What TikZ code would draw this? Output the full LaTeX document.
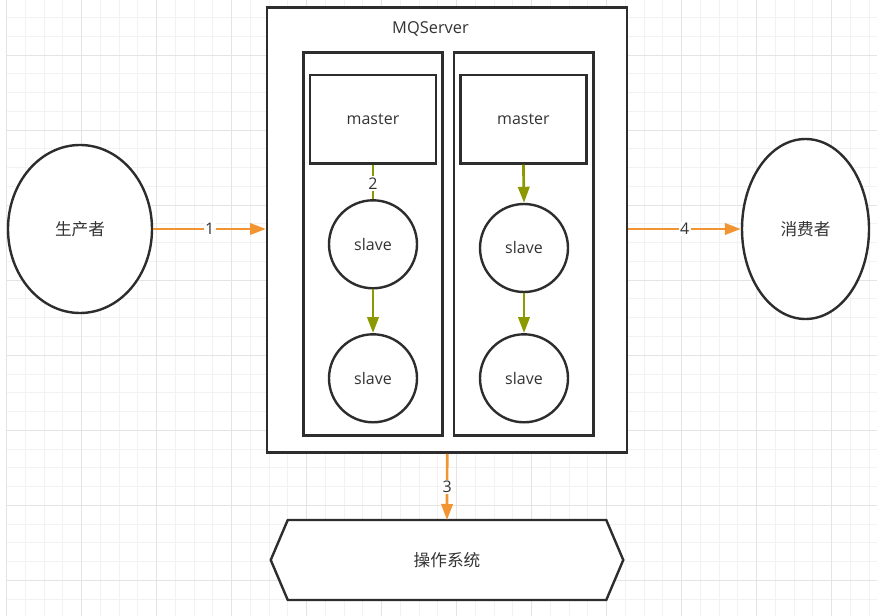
\documentclass[tikz,border=0pt]{standalone}
\usepackage{fontspec}
\setmainfont{Open Sans}
\newfontfamily\cjk{Noto Sans CJK SC}
\usetikzlibrary{arrows.meta,calc,shapes.geometric}
\definecolor{gminorc}{RGB}{242,242,242}
\definecolor{gmajorc}{RGB}{228,228,228}
\definecolor{olivec}{RGB}{140,153,0}
\definecolor{orangec}{RGB}{242,148,50}
\definecolor{edgec}{RGB}{45,45,45}
\definecolor{txtc}{RGB}{51,51,51}
\tikzset{
  gminor/.style={draw=gminorc,line width=0.75pt},
  gmajor/.style={draw=gmajorc,line width=0.75pt},
  shapebox/.style={draw=edgec,line width=1.8pt,fill=white,text=txtc,inner sep=0pt,
    font=\fontsize{12}{14}\selectfont},
  boxrect/.style={shapebox,rectangle},
  boxell/.style={shapebox,ellipse},
  cjklabel/.style={font=\fontsize{12.5}{14}\selectfont\cjk},
  olivearrow/.style={draw=olivec,line width=2pt,-{Triangle[length=12pt,width=8.5pt]}},
  oliveline/.style={draw=olivec,line width=2pt},
  orangearrow/.style={draw=orangec,line width=2pt,-{Triangle[length=12pt,width=8.5pt]}},
  elabel/.style={fill=white,text=txtc,inner sep=1pt,font=\fontsize{12}{14}\selectfont},
}
\begin{document}
\begin{tikzpicture}[x=0.75pt,y=-0.75pt]
\useasboundingbox (0,0) rectangle (877,616);
% grid
\foreach \k in {0,...,46} \draw[gminor] ({6.7+18.75*\k},0) -- ({6.7+18.75*\k},616);
\foreach \k in {1,...,32} \draw[gminor] (6.7,{-1+18.75*\k}) -- (877,{-1+18.75*\k});
\foreach \k in {0,...,11} \draw[gmajor] ({6.7+75*\k},0) -- ({6.7+75*\k},616);
\foreach \k in {0,...,7} \draw[gmajor] (6.7,{55.25+75*\k}) -- (877,{55.25+75*\k});

% outer nodes
\node[boxell,cjklabel,minimum width=108pt,minimum height=126pt] (prod) at (80,229) {生产者};
\node[boxell,cjklabel,minimum width=95.25pt,minimum height=135pt] (cons) at (805.5,229) {消费者};

% MQServer
\node[boxrect,minimum width=270pt,minimum height=334pt] (mq) at (447.2,230) {};
\node[text=txtc,font=\fontsize{12.3}{14}\selectfont] (mqlabel) at (430.5,29) {MQServer};

% inner groups
\node[boxrect,minimum width=104.5pt,minimum height=287pt] (g1) at (373,244) {};
\node[boxrect,minimum width=104.5pt,minimum height=287pt] (g2) at (523.7,244) {};

\node[boxrect,minimum width=94.5pt,minimum height=66.2pt] (m1) at (373,119.2) {master};
\node[boxrect,minimum width=94.5pt,minimum height=66.2pt] (m2) at (523.4,119.2) {master};

\node[boxell,minimum width=66pt,minimum height=66pt] (s1) at (373,244.3) {slave};
\node[boxell,minimum width=66pt,minimum height=66pt] (s2) at (524,248) {slave};
\node[boxell,minimum width=66pt,minimum height=66pt] (s3) at (373,378.3) {slave};
\node[boxell,minimum width=66pt,minimum height=66pt] (s4) at (524,378.3) {slave};

% operating system hexagon
\node[rectangle,minimum width=264pt,minimum height=59.6pt,inner sep=0pt] (os) at (447,560) {};
\draw[draw=edgec,line width=1.8pt,fill=white,line join=miter]
  (os.west) -- ($(os.north west)+(17,0)$) -- ($(os.north east)+(-17,0)$) -- (os.east)
  -- ($(os.south east)+(-17,0)$) -- ($(os.south west)+(17,0)$) -- cycle;
\node[text=txtc,cjklabel] (oslabel) at (os.center) {操作系统};

% olive connectors
\draw[oliveline] (m1.south) -- node[elabel,pos=0.55] (l2) {2} (s1.north);
\draw[olivearrow] (m2.south) -- (s2.north);
\draw[olivearrow] (s1.south) -- (s3.north);
\draw[olivearrow] (s2.south) -- (s4.north);

% orange connectors
\draw[orangearrow] (prod.east) -- node[elabel] (l1) {1} (prod.east -| mq.west);
\draw[orangearrow] (cons.west -| mq.east) -- node[elabel] (l4) {4} (cons.west);
\draw[orangearrow] (mq.south) -- node[elabel] (l3) {3} (os.north);
\end{tikzpicture}
\end{document}
